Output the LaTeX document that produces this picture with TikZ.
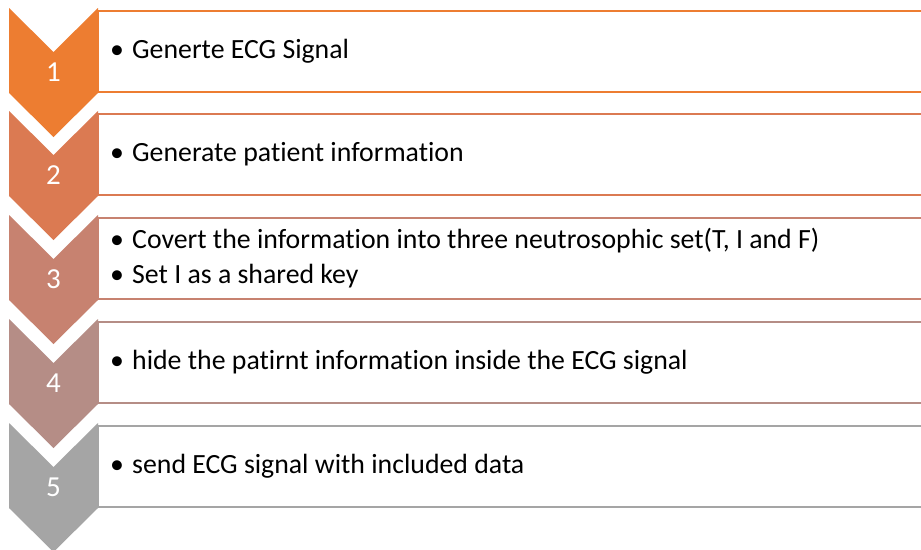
\documentclass[tikz,border=0pt]{standalone}
\usepackage{fontspec}
\setmainfont[Ligatures={NoCommon,NoContextual}]{Carlito}
\definecolor{c1}{RGB}{237,125,49}
\definecolor{c2}{RGB}{219,122,82}
\definecolor{c3}{RGB}{199,130,112}
\definecolor{c4}{RGB}{181,141,134}
\definecolor{c5}{RGB}{165,165,165}
\tikzset{
  stepbar/.style={draw=#1, line width=2.5pt, fill=white},
  chev/.style={fill=#1, draw=none},
  numlbl/.style={text=white, font=\fontsize{29}{29}\selectfont, inner sep=0pt},
  txt/.style={anchor=west, inner sep=0pt, align=left, font=\fontsize{27.8}{35}\selectfont, text=black},
}
\newcommand{\bul}{\makebox[22pt][l]{•}}
\begin{document}
\begin{tikzpicture}[x=1pt,y=-1pt]
\useasboundingbox[fill=white] (0,0) rectangle (921,549);
\foreach \y/\c/\n/\t in {8/c1/1/{\bul Generte ECG Signal},
  111/c2/2/{\bul Generate patient information},
  215/c3/3/{\bul Covert the information into three neutrosophic set(T, I and F)\\\bul Set I as a shared key},
  319/c4/4/{\bul hide the patirnt information inside the ECG signal},
  423/c5/5/{\bul send ECG signal with included data}}{
  \draw[stepbar=\c] (98,\y+3) rectangle (925,\y+84);
  \fill[chev=\c] (9,\y) -- (53.5,\y+44) -- (98,\y) -- (98,\y+85) -- (53.5,\y+129) -- (9,\y+85) -- cycle;
  \node[numlbl] (n\n) at (53.5,\y+64) {\n};
  \node[txt] (t\n) at (110,\y+43.5) {\t};
}
\end{tikzpicture}
\end{document}
